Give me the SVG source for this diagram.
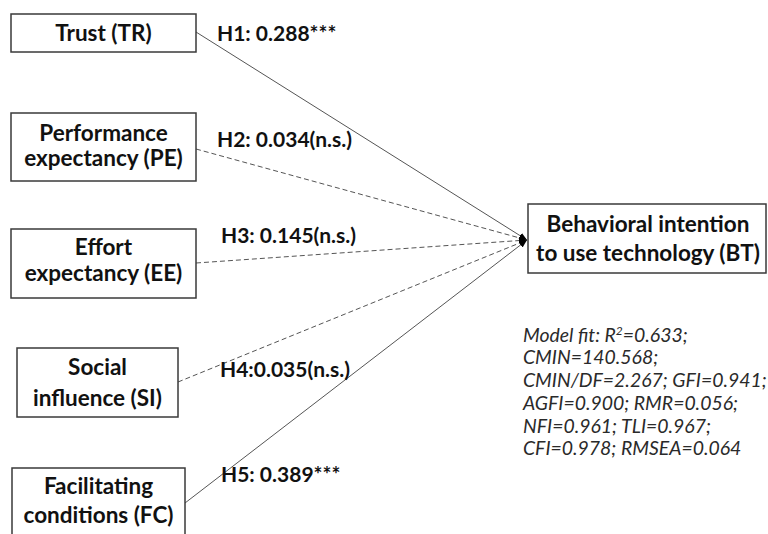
<svg xmlns="http://www.w3.org/2000/svg" width="768" height="534" viewBox="0 0 768 534">
<style>
.box{fill:#fff;stroke:#3a3a3a;stroke-width:1.5}
.lbl{font-family:Lato,"Open Sans","Liberation Sans",sans-serif;font-weight:bold;font-size:22.5px;fill:#111;text-anchor:middle}
.hyp{font-family:Lato,"Open Sans","Liberation Sans",sans-serif;font-weight:bold;font-size:21px;fill:#111}
.fit{font-family:Lato,"Open Sans","Liberation Sans",sans-serif;font-style:italic;font-size:19.4px;fill:#2a2a2a}
.solid{stroke:#555;stroke-width:1;fill:none}
.dash{stroke:#555;stroke-width:1;fill:none;stroke-dasharray:5 3}
</style>
<defs>
<marker id="ah" viewBox="0 0 10 10" refX="10" refY="5" markerWidth="8" markerHeight="8" markerUnits="userSpaceOnUse" orient="auto">
<path d="M0,1 L10,5 L0,9 Z" fill="#000"/>
</marker>
</defs>
<rect width="768" height="534" fill="#fff"/>
<g id="connectors">
<line class="solid" x1="196" y1="32" x2="527" y2="240" marker-end="url(#ah)"/>
<line class="dash" x1="196" y1="149" x2="527" y2="240" marker-end="url(#ah)"/>
<line class="dash" x1="196" y1="263" x2="527" y2="240" marker-end="url(#ah)"/>
<line class="dash" x1="178" y1="382" x2="527" y2="240" marker-end="url(#ah)"/>
<line class="solid" x1="185" y1="503" x2="527" y2="240" marker-end="url(#ah)"/>
</g>
<g id="TR">
<rect class="box" x="11" y="14" width="185" height="38"/>
<text class="lbl" x="103.5" y="41">Trust (TR)</text>
</g>
<g id="PE">
<rect class="box" x="11" y="113" width="185" height="68"/>
<text class="lbl" x="103.5" y="141">Performance</text>
<text class="lbl" x="103.5" y="166">expectancy (PE)</text>
</g>
<g id="EE">
<rect class="box" x="11" y="229" width="185" height="69"/>
<text class="lbl" x="103.5" y="255">Effort</text>
<text class="lbl" x="103.5" y="281">expectancy (EE)</text>
</g>
<g id="SI">
<rect class="box" x="17" y="348" width="161" height="69"/>
<text class="lbl" x="97.5" y="375">Social</text>
<text class="lbl" x="97.5" y="406">influence (SI)</text>
</g>
<g id="FC">
<rect class="box" x="12" y="468" width="173" height="70"/>
<text class="lbl" x="98.5" y="494">Facilitating</text>
<text class="lbl" x="98.5" y="523">conditions (FC)</text>
</g>
<g id="BT">
<rect class="box" x="528" y="204" width="238" height="69"/>
<text class="lbl" x="648" y="232">Behavioral intention</text>
<text class="lbl" x="648" y="261">to use technology (BT)</text>
</g>
<g id="labels">
<text class="hyp" x="217" y="41">H1: 0.288***</text>
<text class="hyp" x="217" y="147">H2: 0.034(n.s.)</text>
<text class="hyp" x="221" y="243">H3: 0.145(n.s.)</text>
<text class="hyp" x="220" y="377">H4:0.035(n.s.)</text>
<text class="hyp" x="221" y="482">H5: 0.389***</text>
</g>
<g id="fit">
<text class="fit" x="523" y="342">Model fit: R<tspan font-size="12" dy="-7">2</tspan><tspan dy="7">=0.633;</tspan></text>
<text class="fit" x="523" y="364">CMIN=140.568;</text>
<text class="fit" x="523" y="387">CMIN/DF=2.267; GFI=0.941;</text>
<text class="fit" x="523" y="410">AGFI=0.900; RMR=0.056;</text>
<text class="fit" x="523" y="433">NFI=0.961; TLI=0.967;</text>
<text class="fit" x="523" y="455">CFI=0.978; RMSEA=0.064</text>
</g>
</svg>
